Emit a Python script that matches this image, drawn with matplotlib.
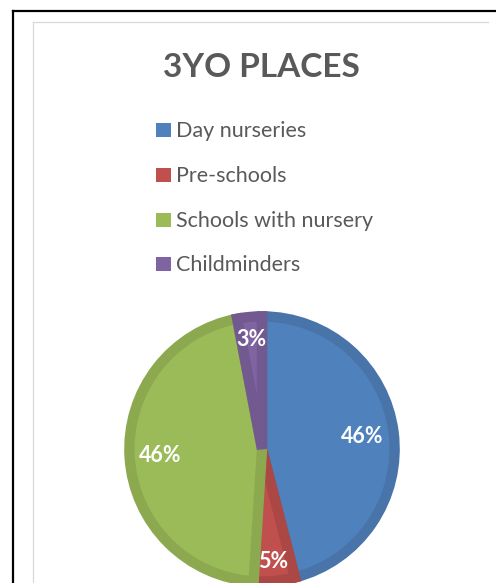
import matplotlib
matplotlib.use("Agg")
import matplotlib.pyplot as plt
from matplotlib.patches import Rectangle
from matplotlib.lines import Line2D
import numpy as np

categories = ["Day nurseries", "Pre-schools", "Schools with nursery", "Childminders"]
values = [46, 5, 46, 3]
labels = ["46%", "5%", "46%", "3%"]
title = "3YO PLACES"

fill_colors = ["#4F81BD", "#C0504D", "#9BBB59", "#8064A2"]
edge_colors = ["#4874AA", "#AB4744", "#8CA950", "#725A91"]
label_dist = [0.74, 0.83, 0.75, 0.81]

W, H = 496, 583
DPI = 100
plt.rcParams['font.family'] = ['Lato', 'DejaVu Sans']
fig = plt.figure(figsize=(W / DPI, H / DPI), dpi=DPI)

def fx(x):
    return x / W

def fy(y):
    return 1 - y / H

# borders
fig.add_artist(Line2D([fx(13), fx(13)], [fy(11), fy(590)], color="black", lw=1.6))
fig.add_artist(Line2D([fx(13), fx(500)], [fy(11), fy(11)], color="black", lw=1.6))
fig.add_artist(Line2D([fx(33), fx(488)], [fy(22), fy(22)], color="#D9D9D9", lw=0.9))
fig.add_artist(Line2D([fx(33), fx(33)], [fy(22), fy(590)], color="#D9D9D9", lw=0.9))

# title
fig.text(fx(261), fy(77), title, ha="center", va="baseline",
         fontsize=24, fontweight="bold", color="#595959")

# legend
row_y = [130, 175, 220, 264]
for cat, col, yy in zip(categories, fill_colors, row_y):
    fig.add_artist(Rectangle((fx(156), fy(yy + 7)), 15 / W, 14 / H,
                             transform=fig.transFigure, facecolor=col, edgecolor="none"))
    fig.text(fx(176), fy(yy + 7), cat, ha="left", va="baseline",
             fontsize=15.5, color="#595959")

# pie
cx, cy, r = 262, 449, 136
ax = fig.add_axes([fx(cx - r), fy(cy + r), 2 * r / W, 2 * r / H])
wedges, _ = ax.pie(values, colors=fill_colors, startangle=90, counterclock=False,
                   radius=0.975, wedgeprops=dict(linewidth=7.5))
for w, ec in zip(wedges, edge_colors):
    w.set_edgecolor(ec)
    w.set_clip_path(w)

for w, lab, d in zip(wedges, labels, label_dist):
    ang = np.deg2rad((w.theta1 + w.theta2) / 2)
    ax.text(d * np.cos(ang), d * np.sin(ang), lab, ha="center", va="center",
            fontsize=15.5, fontweight="bold", color="white")

ax.set_xlim(-1, 1)
ax.set_ylim(-1, 1)
ax.set_aspect("equal")
ax.axis("off")

fig.savefig("out.png", dpi=DPI, facecolor="white")
